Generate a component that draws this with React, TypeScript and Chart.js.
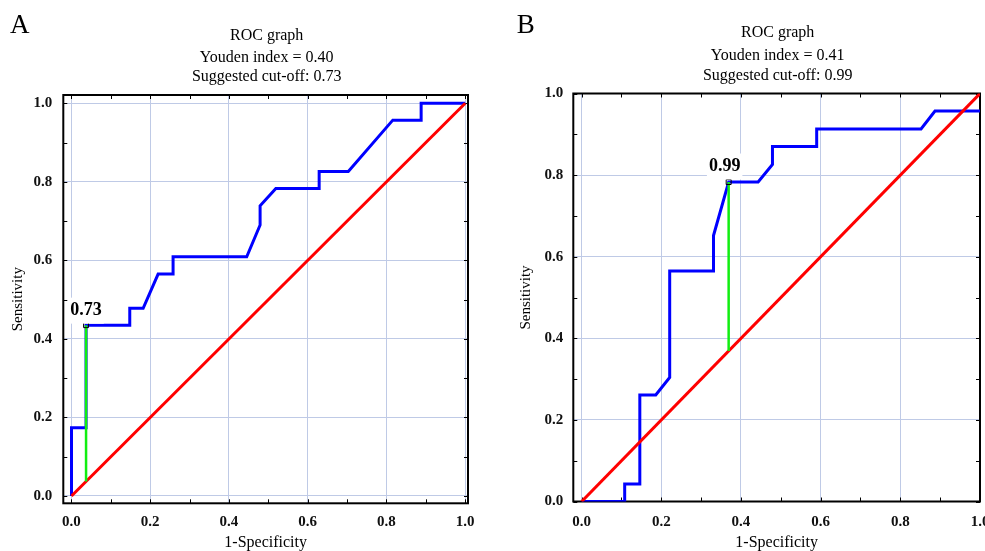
import React, { useEffect, useRef } from "react";
import { Chart, registerables } from "chart.js";

Chart.register(...registerables);

// ---------- data ----------
const majorTicks = [0, 0.2, 0.4, 0.6, 0.8, 1.0];
const minorTicks = [0, 0.1, 0.2, 0.3, 0.4, 0.5, 0.6, 0.7, 0.8, 0.9, 1.0];
const xAxisTitle = "1-Specificity";
const yAxisTitle = "Sensitivity";

const panelLetterA = "A";
const titleLinesA = ["ROC graph", "Youden index = 0.40", "Suggested cut-off: 0.73"];
const rocAX = [0, 0, 0.037, 0.037, 0.148, 0.148, 0.182, 0.22, 0.258, 0.258, 0.445, 0.479, 0.479, 0.519, 0.629, 0.629, 0.703, 0.816, 0.888, 0.888, 1.0];
const rocAY = [0, 0.174, 0.174, 0.435, 0.435, 0.478, 0.478, 0.565, 0.565, 0.609, 0.609, 0.69, 0.739, 0.783, 0.783, 0.826, 0.826, 0.957, 0.957, 1.0, 1.0];
const cutoffA = [0.037, 0.435];
const cutoffLabelA = "0.73";

const panelLetterB = "B";
const titleLinesB = ["ROC graph", "Youden index = 0.41", "Suggested cut-off: 0.99"];
const rocBX = [0, 0.108, 0.108, 0.146, 0.146, 0.186, 0.221, 0.221, 0.331, 0.331, 0.369, 0.443, 0.479, 0.479, 0.59, 0.59, 0.852, 0.887, 1.0];
const rocBY = [0, 0, 0.043, 0.043, 0.261, 0.261, 0.304, 0.565, 0.565, 0.652, 0.783, 0.783, 0.826, 0.87, 0.87, 0.913, 0.913, 0.957, 0.957];
const cutoffB = [0.369, 0.783];
const cutoffLabelB = "0.99";

const diagonalX = [0, 1];
const diagonalY = [0, 1];

// ---------- layout / style ----------
const SERIF = '"Liberation Serif", "Times New Roman", serif';
const GRID = "#bfcae6";

type PanelCfg = {
  letter: string;
  titles: string[];
  rx: number[];
  ry: number[];
  cut: number[];
  cutLabel: string;
  left: number;
  width: number;
  padTop: number;
  padRight: number;
  yAxisWidth: number;
  xAxisHeight: number;
  xMin: number;
  xMax: number;
  yMin: number;
  yMax: number;
  yTickPad: number;
  yTitlePad: number;
  xTickPad: number;
  letterX: number;
  titleBase: number[];
  labelDx: number;
  labelDy: number;
};

const panelA: PanelCfg = {
  letter: panelLetterA,
  titles: titleLinesA,
  rx: rocAX,
  ry: rocAY,
  cut: cutoffA,
  cutLabel: cutoffLabelA,
  left: 0,
  width: 490,
  padTop: 95,
  padRight: 22,
  yAxisWidth: 63.3,
  xAxisHeight: 47.7,
  xMin: -0.0208,
  xMax: 1.007,
  yMin: -0.0186,
  yMax: 1.021,
  yTickPad: 11,
  yTitlePad: 9.3,
  xTickPad: 9.4,
  letterX: 10,
  titleBase: [40, 62, 81],
  labelDx: 0,
  labelDy: -14.5,
};

const panelB: PanelCfg = {
  letter: panelLetterB,
  titles: titleLinesB,
  rx: rocBX,
  ry: rocBY,
  cut: cutoffB,
  cutLabel: cutoffLabelB,
  left: 500,
  width: 485,
  padTop: 93.5,
  padRight: 4,
  yAxisWidth: 73.3,
  xAxisHeight: 49.5,
  xMin: -0.021,
  xMax: 1.0,
  yMin: 0,
  yMax: 1.0,
  yTickPad: 10,
  yTitlePad: 16.7,
  xTickPad: 11.2,
  letterX: 16.7,
  titleBase: [37, 60, 80],
  labelDx: -4,
  labelDy: -15.5,
};

function makePlugin(cfg: PanelCfg) {
  return {
    id: "rocDecor" + cfg.letter,
    beforeDatasetsDraw(chart: any) {
      const { ctx, chartArea } = chart;
      const xs = chart.scales.x;
      const ys = chart.scales.y;
      ctx.save();
      ctx.strokeStyle = "#000";
      ctx.lineWidth = 1;
      const tl = 4;
      ctx.beginPath();
      minorTicks.forEach((v) => {
        const px = Math.round(xs.getPixelForValue(v)) + 0.5;
        ctx.moveTo(px, chartArea.bottom);
        ctx.lineTo(px, chartArea.bottom - tl);
        ctx.moveTo(px, chartArea.top);
        ctx.lineTo(px, chartArea.top + tl);
        const py = Math.round(ys.getPixelForValue(v)) + 0.5;
        ctx.moveTo(chartArea.left, py);
        ctx.lineTo(chartArea.left + tl, py);
        ctx.moveTo(chartArea.right, py);
        ctx.lineTo(chartArea.right - tl, py);
      });
      ctx.stroke();
      ctx.lineWidth = 2;
      ctx.strokeRect(chartArea.left, chartArea.top, chartArea.right - chartArea.left, chartArea.bottom - chartArea.top);
      ctx.restore();
    },
    afterDatasetsDraw(chart: any) {
      const { ctx, chartArea } = chart;
      const xs = chart.scales.x;
      const ys = chart.scales.y;
      ctx.save();
      // cut-off label
      ctx.font = `bold 18px ${SERIF}`;
      const cx = xs.getPixelForValue(cfg.cut[0]) + cfg.labelDx;
      const cy = ys.getPixelForValue(cfg.cut[1]) + cfg.labelDy;
      const w = ctx.measureText(cfg.cutLabel).width;
      ctx.fillStyle = "#fff";
      ctx.fillRect(cx - w / 2 - 2, cy - 13, w + 4, 26);
      ctx.fillStyle = "#000";
      ctx.textAlign = "center";
      ctx.textBaseline = "middle";
      ctx.fillText(cfg.cutLabel, cx, cy);
      // titles
      ctx.font = `16px ${SERIF}`;
      ctx.textBaseline = "alphabetic";
      const mid = (chartArea.left + chartArea.right) / 2 + 1;
      cfg.titles.forEach((t, i) => ctx.fillText(t, mid, cfg.titleBase[i]));
      // panel letter
      ctx.font = `27px ${SERIF}`;
      ctx.textAlign = "left";
      ctx.fillText(cfg.letter, cfg.letterX, 33);
      ctx.restore();
    },
  };
}

function RocPanel({ cfg }: { cfg: PanelCfg }) {
  const ref = useRef<HTMLCanvasElement>(null);
  useEffect(() => {
    if (!ref.current) return;
    const rocPoints = cfg.rx.map((x, i) => ({ x, y: cfg.ry[i] }));
    const diag = diagonalX.map((x, i) => ({ x, y: diagonalY[i] }));
    const green = [
      { x: cfg.cut[0], y: cfg.cut[0] },
      { x: cfg.cut[0], y: cfg.cut[1] },
    ];
    const chart = new Chart(ref.current, {
      type: "scatter",
      data: {
        datasets: [
          { data: rocPoints, showLine: true, borderColor: "#0000ff", borderWidth: 3, pointRadius: 0, tension: 0, order: 3 },
          { data: diag, showLine: true, borderColor: "#ff0000", borderWidth: 3, pointRadius: 0, order: 2 },
          { data: green, showLine: true, borderColor: "#11ee11", borderWidth: 2.5, pointRadius: 0, order: 1 },
          {
            data: [{ x: cfg.cut[0], y: cfg.cut[1] }],
            showLine: false,
            pointStyle: "rect",
            pointRadius: 3.5,
            borderColor: "#000",
            borderWidth: 1,
            backgroundColor: "rgba(0,0,0,0)",
            order: 0,
          },
        ],
      },
      options: {
        responsive: false,
        animation: false,
        events: [],
        layout: { padding: { left: 0, right: cfg.padRight, top: cfg.padTop, bottom: 0 } },
        plugins: { legend: { display: false }, tooltip: { enabled: false }, title: { display: false } },
        scales: {
          x: {
            type: "linear",
            min: cfg.xMin,
            max: cfg.xMax,
            afterBuildTicks: (s: any) => {
              s.ticks = majorTicks.map((v) => ({ value: v }));
            },
            afterFit: (s: any) => {
              s.height = cfg.xAxisHeight;
              s.paddingLeft = 0;
              s.paddingRight = 0;
            },
            grid: { color: GRID, lineWidth: 1, drawTicks: false },
            border: { display: false },
            ticks: {
              autoSkip: false,
              maxRotation: 0,
              padding: cfg.xTickPad,
              color: "#111",
              font: { family: SERIF, size: 15, weight: "bold" },
              callback: (v: any) => Number(v).toFixed(1),
            },
            title: {
              display: true,
              text: xAxisTitle,
              color: "#000",
              font: { family: SERIF, size: 16, lineHeight: 1 },
              padding: { top: 0, bottom: 0 },
            },
          },
          y: {
            type: "linear",
            min: cfg.yMin,
            max: cfg.yMax,
            afterBuildTicks: (s: any) => {
              s.ticks = majorTicks.map((v) => ({ value: v }));
            },
            afterFit: (s: any) => {
              s.width = cfg.yAxisWidth;
              s.paddingTop = 0;
              s.paddingBottom = 0;
            },
            grid: { color: GRID, lineWidth: 1, drawTicks: false },
            border: { display: false },
            ticks: {
              padding: cfg.yTickPad,
              color: "#111",
              font: { family: SERIF, size: 15, weight: "bold" },
              callback: (v: any) => Number(v).toFixed(1),
            },
            title: {
              display: true,
              text: yAxisTitle,
              color: "#000",
              font: { family: SERIF, size: 15, lineHeight: 1.2 },
              padding: { top: cfg.yTitlePad, bottom: 0 },
            },
          },
        },
      },
      plugins: [makePlugin(cfg)],
    } as any);
    return () => chart.destroy();
  }, [cfg]);
  return (
    <canvas
      ref={ref}
      width={cfg.width}
      height={551}
      style={{ position: "absolute", left: cfg.left, top: 0 }}
    />
  );
}

export default function App() {
  return (
    <div style={{ position: "absolute", left: 0, top: 0, width: 985, height: 551, background: "#fff", overflow: "hidden" }}>
      <RocPanel cfg={panelA} />
      <RocPanel cfg={panelB} />
    </div>
  );
}
